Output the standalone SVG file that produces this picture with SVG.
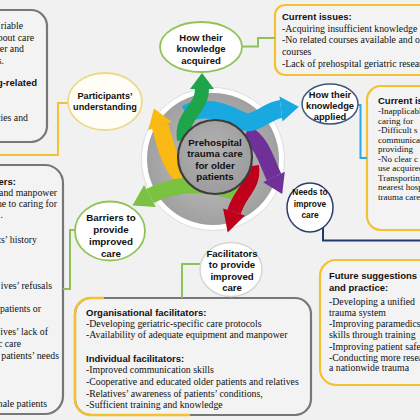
<svg xmlns="http://www.w3.org/2000/svg" width="420" height="420" viewBox="0 0 420 420">
<defs>
<radialGradient id="disk" cx="0.5" cy="0.5" r="0.5">
<stop offset="0" stop-color="#bdbdbd"/>
<stop offset="0.65" stop-color="#adadad"/>
<stop offset="1" stop-color="#a0a0a0"/>
</radialGradient>
<radialGradient id="hub" cx="0.45" cy="0.4" r="0.65">
<stop offset="0" stop-color="#b2b2b2"/>
<stop offset="1" stop-color="#9b9b9b"/>
</radialGradient>
</defs>
<style>
.box{fill:#f3f3f3;stroke-width:2.2}
.gbox{stroke:#777777}
.ybox{stroke:#f2c232}
.body{font-family:"Liberation Serif","Times New Roman",serif;font-size:9.8px;fill:#111}
.small{font-size:9px}
.head{font-family:"Liberation Sans",Arial,sans-serif;font-size:9.5px;font-weight:bold;fill:#111}
.end{text-anchor:end}
.lbl{font-family:"Liberation Sans",Arial,sans-serif;font-size:9.5px;font-weight:bold;fill:#111;text-anchor:middle}
.conn{fill:none;stroke-width:2}
.band{fill:none}
.node{fill:#ffffff;stroke-width:1.8}
</style>
<rect width="420" height="420" fill="#f1f1f1"/>

<g id="box-top-left">
<rect class="box gbox" x="-25" y="10" width="72" height="132" rx="16"/>
<text class="body end" x="23" y="29">riable</text>
<text class="body end" x="34" y="40.5">bout care</text>
<text class="body end" x="24" y="52">er and</text>
<text class="body end" x="4" y="63.5">s.</text>
<text class="head end" x="37" y="86">g-related</text>
<text class="body end" x="28" y="121">cies and</text>
</g>

<g id="box-barriers">
<rect class="box gbox" x="-25" y="165" width="88" height="249" rx="18"/>
<text class="head end" x="16" y="184.5">ers:</text>
<text class="body end" x="57" y="195.5">and manpower</text>
<text class="body end" x="57" y="207">ne to caring for</text>
<text class="body end" x="3" y="218">.</text>
<text class="body end" x="37" y="242.5">ts’ history</text>
<text class="body end" x="52" y="289">ives’ refusals</text>
<text class="body end" x="41" y="311.5">patients or</text>
<text class="body end" x="48" y="335">ives’ lack of</text>
<text class="body end" x="21" y="346.5">c care</text>
<text class="body end" x="59" y="359">patients’ needs</text>
<text class="body end" x="47" y="406.5">nale patients</text>
</g>

<g id="box-acquired-issues">
<rect class="box ybox" x="275" y="5" width="170" height="70" rx="10"/>
<text class="head" x="282" y="20">Current issues:</text>
<text class="body" x="282" y="31.5">-Acquiring insufficient knowledge</text>
<text class="body" x="282" y="43">-No related courses available and o</text>
<text class="body" x="282" y="55">courses</text>
<text class="body" x="282" y="66.5">-Lack of prehospital geriatric research</text>
</g>

<g id="box-applied-issues">
<rect class="box ybox" x="367" y="86" width="80" height="144" rx="14"/>
<text class="head" x="378" y="103.5">Current issues:</text>
<text class="body small" x="378" y="114">-Inapplicable</text>
<text class="body small" x="378" y="123.5">caring for</text>
<text class="body small" x="378" y="133">-Difficult s</text>
<text class="body small" x="378" y="142.5">communication</text>
<text class="body small" x="378" y="152">providing</text>
<text class="body small" x="378" y="161.5">-No clear c</text>
<text class="body small" x="378" y="171">use acquired</text>
<text class="body small" x="378" y="180.5">Transporting</text>
<text class="body small" x="378" y="190">nearest hospital</text>
<text class="body small" x="378" y="199.5">trauma care</text>
</g>

<g id="box-future">
<rect class="box ybox" x="320" y="260" width="120" height="125" rx="16"/>
<text class="head" x="329" y="279">Future suggestions</text>
<text class="head" x="329" y="291">and practice:</text>
<text class="body" x="329" y="305">-Developing a unified</text>
<text class="body" x="329" y="315.5">trauma system</text>
<text class="body" x="329" y="327">-Improving paramedics’</text>
<text class="body" x="329" y="338">skills through training</text>
<text class="body" x="329" y="350">-Improving patient safety</text>
<text class="body" x="329" y="360.5">-Conducting more research</text>
<text class="body" x="329" y="370.5">a nationwide trauma</text>
</g>

<g id="box-facilitators">
<rect class="box gbox" x="75" y="298" width="236" height="117" rx="16"/>
<path d="M104,298 H91 A16,16 0 0 0 75,314 V399 A16,16 0 0 0 91,415 H190" fill="none" stroke="#f2c232" stroke-width="2.4"/>
<text class="head" x="86" y="315.5">Organisational facilitators:</text>
<text class="body" x="86" y="326.5">-Developing geriatric-specific care protocols</text>
<text class="body" x="86" y="338">-Availability of adequate equipment and manpower</text>
<text class="head" x="86" y="361.5">Individual facilitators:</text>
<text class="body" x="86" y="373">-Improved communication skills</text>
<text class="body" x="86" y="385">-Cooperative and educated older patients and relatives</text>
<text class="body" x="86" y="396.5">-Relatives’ awareness of patients’ conditions,</text>
<text class="body" x="86" y="408">-Sufficient training and knowledge</text>
</g>

<g id="connectors">
<polyline class="conn" stroke="#f2c232" points="68,103 58,103 58,155 -2,155"/>
<polyline class="conn" stroke="#8dc15a" points="242,46.5 258,46.5 258,38 275,38"/>
<polyline class="conn" stroke="#2aa9e0" points="358,105 360.5,105 360.5,158 367,158"/>
<polyline class="conn" stroke="#203a70" points="323,227 323,240.5 422,240.5"/>
<polyline class="conn" stroke="#8dc15a" points="75,230 70,230 70,289 63,289"/>
<polyline class="conn" stroke="#8dc15a" points="200,264 182,264 182,298"/>
</g>

<g id="node-center">
<circle cx="213" cy="159" r="71.5" fill="#ffffff" stroke="#dddddd" stroke-width="1"/>
<circle cx="213" cy="159" r="66" fill="url(#disk)"/>
<path class="band" d="M187,180 C170,170 165,142 160,126" stroke="#fbb913" stroke-width="17"/>
<polygon points="171.8,121.7 148.2,130.3 153.9,108.6" fill="#fbb913"/>
<path class="band" d="M240,194 C215,184 180,180 150,196" stroke="#7cc242" stroke-width="16"/>
<polygon points="155.9,207.1 144.1,184.9 132.4,205.4" fill="#7cc242"/>
<path class="band" d="M252,166 C255,186 240,192 234,212" stroke="#c0001a" stroke-width="14"/>
<polygon points="244.9,215.5 223.1,208.5 227.7,232.5" fill="#c0001a"/>
<path class="band" d="M246,133 C262,142 266,160 274,177" stroke="#6f3198" stroke-width="16"/>
<polygon points="284.8,171.8 263.2,182.2 282.2,194.1" fill="#6f3198"/>
<path class="band" d="M186,114 C205,104 225,112 240,120 S265,111 281,109" stroke="#19a8e0" stroke-width="18"/>
<polygon points="282.5,121.5 279.5,96.5 298.8,106.8" fill="#19a8e0"/>
<path class="band" d="M184,140 C180,115 202,110 202,89" stroke="#1ea54b" stroke-width="14"/>
<polygon points="190,89 214,89 202,73" fill="#1ea54b"/>
<circle cx="215" cy="157" r="37" fill="url(#hub)" stroke="#3c3c3c" stroke-width="2.2"/>
<text class="lbl" x="215" y="145.5" style="font-size:9.8px">Prehospital</text>
<text class="lbl" x="215" y="157" style="font-size:9.8px">trauma care</text>
<text class="lbl" x="215" y="168.5" style="font-size:9.8px">for older</text>
<text class="lbl" x="215" y="180" style="font-size:9.8px">patients</text>
</g>

<g id="node-participants">
<ellipse class="node" cx="105" cy="101.5" rx="37" ry="28.5" style="fill:#fffef6;stroke:#ecd98a"/>
<text class="lbl" x="105" y="98.5" style="font-size:9.2px">Participants’</text>
<text class="lbl" x="105" y="110" style="font-size:9.2px">understanding</text>
</g>

<g id="node-acquired">
<ellipse class="node" cx="201" cy="47" rx="41" ry="25" style="stroke:#92c35a"/>
<text class="lbl" x="201" y="40.5">How their</text>
<text class="lbl" x="201" y="52">knowledge</text>
<text class="lbl" x="201" y="63.5">acquired</text>
</g>

<g id="node-applied">
<ellipse class="node" cx="330" cy="104" rx="28" ry="20" style="stroke:#3f567c;stroke-width:1.5"/>
<text class="lbl" x="330" y="97.5" style="font-size:9.3px">How their</text>
<text class="lbl" x="330" y="108.5" style="font-size:9.3px">knowledge</text>
<text class="lbl" x="330" y="120" style="font-size:9.3px">applied</text>
</g>

<g id="node-needs">
<ellipse class="node" cx="310" cy="207.5" rx="23" ry="24.5" style="stroke:#2d3f6c;stroke-width:1.5"/>
<g transform="translate(310 0) scale(0.88 1)">
<text class="lbl" x="0" y="195.5">Needs to</text>
<text class="lbl" x="0" y="207">improve</text>
<text class="lbl" x="0" y="218.5">care</text>
</g>
</g>

<g id="node-barriers">
<ellipse class="node" cx="110" cy="231" rx="35" ry="29.5" style="stroke:#92c35a"/>
<text class="lbl" x="111" y="220.5" style="font-size:9.8px">Barriers to</text>
<text class="lbl" x="111" y="232.5" style="font-size:9.8px">provide</text>
<text class="lbl" x="111" y="244.5" style="font-size:9.8px">improved</text>
<text class="lbl" x="111" y="256.5" style="font-size:9.8px">care</text>
</g>

<g id="node-facilitators">
<ellipse class="node" cx="231" cy="269.5" rx="31" ry="27" style="stroke:#d6d6d6;stroke-width:1.5"/>
<text class="lbl" x="232" y="256.5" style="font-size:9.6px">Facilitators</text>
<text class="lbl" x="232" y="268" style="font-size:9.6px">to provide</text>
<text class="lbl" x="232" y="279.5" style="font-size:9.6px">improved</text>
<text class="lbl" x="232" y="291" style="font-size:9.6px">care</text>
</g>
</svg>
